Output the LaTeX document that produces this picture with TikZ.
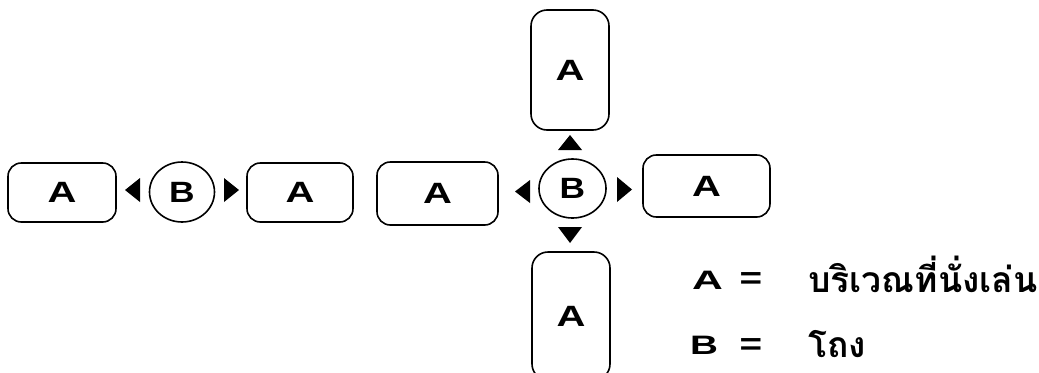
\documentclass[tikz,border=0pt]{standalone}
\usepackage{fontspec}
\setmainfont{Liberation Sans}
\newfontfamily\thaifont[Script=Thai]{Loma}
\usepackage{graphicx}
\usetikzlibrary{shapes.geometric,calc}
\newcommand\LetA[2]{\scalebox{#1}[#2]{\bfseries A}}
\newcommand\LetB[2]{\scalebox{#1}[#2]{\bfseries B}}
\newcommand\LetEq{\scalebox{2.9}[2.3]{\bfseries =}}
\begin{document}
\begin{tikzpicture}[x=0.75pt,y=-0.75pt,
  seat/.style={draw, line width=1.2pt, rounded corners=10pt, inner sep=0pt},
  hall/.style={draw, ellipse, line width=1.2pt, inner sep=0pt},
  tri/.style={fill=black},
  lbl/.style={inner sep=0pt},
  thai/.style={inner sep=0pt, anchor=base west, font=\thaifont\bfseries\fontsize{26.6}{30}\selectfont}]
\useasboundingbox (0,0) rectangle (1039,372);
% seating areas (A)
\node[seat, minimum width=81pt, minimum height=44.25pt] (a1) at (62,192.5) {\LetA{3.0}{2.2}};
\node[seat, minimum width=79.5pt, minimum height=44.25pt] (a2) at (300,192.5) {\LetA{3.0}{2.2}};
\node[seat, minimum width=90.75pt, minimum height=47.25pt] (a3) at (437.5,193.5) {\LetA{3.0}{2.2}};
\node[seat, minimum width=95.25pt, minimum height=46.5pt] (a4) at (706.5,186) {\LetA{3.0}{2.2}};
\node[seat, minimum width=58.5pt, minimum height=90pt, rounded corners=12pt] (a5) at (570,70) {\LetA{3.0}{2.2}};
\node[seat, minimum width=58.5pt, minimum height=96pt, rounded corners=12pt] (a6) at (571,316) {\LetA{3.0}{2.2}};
% halls (B)
\node[hall, minimum width=48.75pt, minimum height=45pt] (b1) at (182,192) {\LetB{2.65}{2.2}};
\node[hall, minimum width=50.25pt, minimum height=44.25pt] (b2) at (572.5,188.5) {\LetB{2.65}{2.2}};
% arrowheads
\fill[tri] (140,178) -- (140,202) -- (125,190) -- cycle;
\fill[tri] (224,178) -- (224,202) -- (239,190) -- cycle;
\fill[tri] (530,180) -- (530,203) -- (515,191.5) -- cycle;
\fill[tri] (617,177) -- (617,202) -- (632,189.5) -- cycle;
\fill[tri] (558,150) -- (582,150) -- (570,135) -- cycle;
\fill[tri] (558,227) -- (582,227) -- (570,243) -- cycle;
% legend
\node[lbl] (la) at (707.5,280.5) {\LetA{3.2}{2.0}};
\node[lbl] (le1) at (751,281) {\LetEq};
\node[thai] (ta) at (808,292) {บริเวณที่นั่งเล่น};
\node[lbl] (lb) at (704,345.5) {\LetB{2.9}{2.0}};
\node[lbl] (le2) at (751,346.5) {\LetEq};
\node[thai] (tb) at (808,357) {โถง};
\end{tikzpicture}
\end{document}
